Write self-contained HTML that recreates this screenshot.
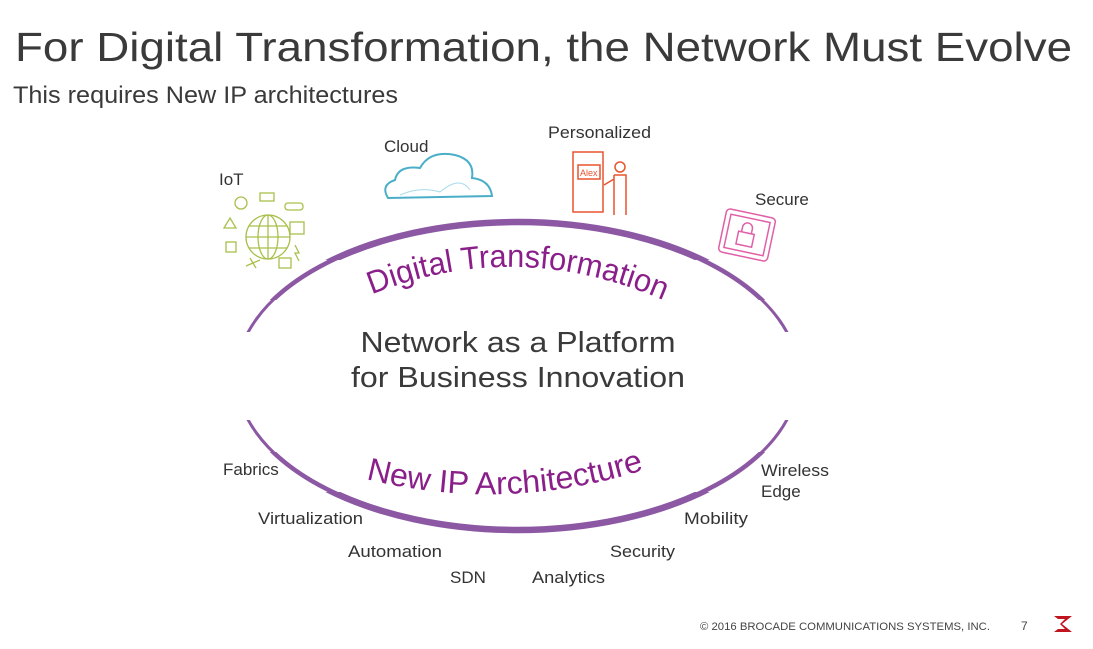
<!DOCTYPE html>
<html><head><meta charset="utf-8"><style>
body{margin:0;background:#fff;}
svg{display:block;font-family:"Liberation Sans",sans-serif;}
</style></head><body>
<svg width="1093" height="649" viewBox="0 0 1093 649" xmlns="http://www.w3.org/2000/svg">
<text x="15" y="61" font-size="41" fill="#3a3a3a" textLength="1057" lengthAdjust="spacingAndGlyphs">For Digital Transformation, the Network Must Evolve</text>
<text x="13" y="103" font-size="24" fill="#3a3a3a" textLength="385" lengthAdjust="spacingAndGlyphs">This requires New IP architectures</text>

<defs>
<clipPath id="c1"><rect x="0" y="0" width="1093" height="332"/><rect x="0" y="420" width="1093" height="229"/></clipPath>
<clipPath id="c2"><rect x="0" y="0" width="1093" height="300"/><rect x="0" y="452" width="1093" height="200"/></clipPath>
<clipPath id="c3"><rect x="0" y="0" width="1093" height="260"/><rect x="0" y="492" width="1093" height="160"/></clipPath>
<path id="tp" d="M368,296 Q518,234 672,304"/>
<path id="bp" d="M362,478 Q505,515 650,468"/>
</defs>
<g fill="none" stroke="#8c58a3">
<ellipse cx="517.5" cy="376" rx="281" ry="154" stroke-width="3" clip-path="url(#c1)"/>
<ellipse cx="517.5" cy="376" rx="281" ry="154" stroke-width="4.5" clip-path="url(#c2)"/>
<ellipse cx="517.5" cy="376" rx="281" ry="154" stroke-width="6.5" clip-path="url(#c3)"/>
</g>
<text font-size="32" fill="#8a1f8a"><textPath href="#tp" startOffset="4" textLength="300" lengthAdjust="spacingAndGlyphs">Digital Transformation</textPath></text>
<text font-size="32" fill="#8a1f8a"><textPath href="#bp" startOffset="4" textLength="282" lengthAdjust="spacingAndGlyphs">New IP Architecture</textPath></text>

<text x="518" y="352" font-size="29" fill="#3a3a3a" text-anchor="middle" textLength="315" lengthAdjust="spacingAndGlyphs">Network as a Platform</text>
<text x="518" y="387" font-size="29" fill="#3a3a3a" text-anchor="middle" textLength="334" lengthAdjust="spacingAndGlyphs">for Business Innovation</text>

<g font-size="17" fill="#333">
<text x="219" y="185">IoT</text>
<text x="384" y="152">Cloud</text>
<text x="548" y="138" textLength="103" lengthAdjust="spacingAndGlyphs">Personalized</text>
<text x="755" y="205">Secure</text>
<text x="223" y="475">Fabrics</text>
<text x="258" y="524" textLength="105" lengthAdjust="spacingAndGlyphs">Virtualization</text>
<text x="348" y="557" textLength="94" lengthAdjust="spacingAndGlyphs">Automation</text>
<text x="450" y="583">SDN</text>
<text x="532" y="583" textLength="73" lengthAdjust="spacingAndGlyphs">Analytics</text>
<text x="610" y="557" textLength="65" lengthAdjust="spacingAndGlyphs">Security</text>
<text x="684" y="524" textLength="64" lengthAdjust="spacingAndGlyphs">Mobility</text>
<text x="761" y="476" textLength="68" lengthAdjust="spacingAndGlyphs">Wireless</text>
<text x="761" y="497">Edge</text>
</g>

<!-- IoT icon -->
<g stroke="#a8c04a" fill="none" stroke-width="1.3">
<circle cx="268" cy="237" r="22"/>
<ellipse cx="268" cy="237" rx="10" ry="22"/>
<line x1="246" y1="237" x2="290" y2="237"/><line x1="268" y1="215" x2="268" y2="259"/>
<path d="M249,226 H287 M249,248 H287"/>
<circle cx="241" cy="203" r="6"/><rect x="260" y="193" width="14" height="8"/>
<rect x="285" y="203" width="18" height="7" rx="3"/><rect x="290" y="222" width="14" height="12"/>
<path d="M224,228 l6,-10 l6,10 z"/><rect x="226" y="242" width="10" height="10"/>
<rect x="279" y="258" width="12" height="10"/><path d="M246,266 l14,-6 M250,258 l6,10"/>
<path d="M295,245 l4,8 l-4,0 l4,8"/>
</g>
<!-- Cloud -->
<path d="M388,198 Q380,185 395,180 Q398,165 420,168 Q430,150 455,155 Q475,160 472,178 Q490,180 492,196 Z" fill="none" stroke="#4aaec8" stroke-width="2"/>
<path d="M400,195 Q420,186 440,192 Q460,175 470,190" fill="none" stroke="#a8dbe8" stroke-width="1"/>
<!-- Personalized -->
<g stroke="#e8542f" fill="none" stroke-width="1.5">
<rect x="573" y="152" width="30" height="60"/><rect x="578" y="165" width="22" height="14"/>
<circle cx="620" cy="167" r="5"/><path d="M614,175 h12 v20 M614,175 v40 M626,195 v20 M604,185 l10,-6"/>
</g>
<text x="580" y="176" font-size="9" fill="#e8542f">Alex</text>
<!-- Secure -->
<g stroke="#e060a8" fill="none" stroke-width="1.5" transform="rotate(12 747 235)">
<rect x="722" y="213" width="50" height="44" rx="4"/><rect x="727" y="218" width="40" height="34"/>
<rect x="738" y="233" width="16" height="13"/><path d="M741,233 v-5 a5,5 0 0 1 10,0 v5"/>
</g>

<text x="700" y="630" font-size="11" fill="#444" textLength="290" lengthAdjust="spacingAndGlyphs">© 2016 BROCADE COMMUNICATIONS SYSTEMS, INC.</text>
<text x="1021" y="630" font-size="12" fill="#444">7</text>
<path d="M1054,616 h18 l-10,8 l10,8 h-18 l4,-3 h7 l-5,-5 l5,-5 h-7 z" fill="#c0141e"/>
</svg>
</body></html>
